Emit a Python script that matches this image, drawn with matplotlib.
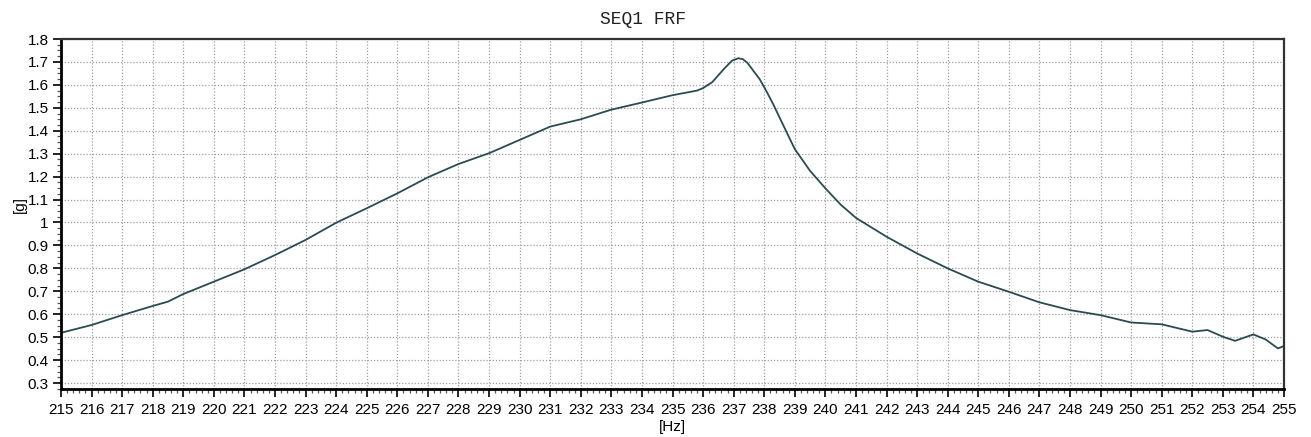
import matplotlib.pyplot as plt
from matplotlib.ticker import MultipleLocator

# frequency [Hz] and response [g]
freq = [215.0, 216.0, 217.0, 218.0, 218.5, 219.0, 220.0, 221.0, 222.0, 223.0,
        224.0, 225.0, 226.0, 227.0, 228.0, 229.0, 230.0, 231.0, 232.0, 233.0,
        234.0, 235.0, 235.8, 236.0, 236.3, 236.7, 236.95, 237.15, 237.3, 237.45,
        237.85, 238.05, 238.3, 238.5, 238.75, 239.0, 239.5, 240.0, 240.5, 241.0,
        242.0, 243.0, 244.0, 245.0, 246.0, 247.0, 248.0, 249.0, 250.0, 251.0,
        252.0, 252.5, 253.0, 253.4, 254.0, 254.4, 254.8, 255.0]
resp = [0.519, 0.553, 0.596, 0.636, 0.655, 0.688, 0.742, 0.796, 0.858, 0.924,
        0.999, 1.062, 1.127, 1.197, 1.255, 1.302, 1.360, 1.418, 1.450, 1.492,
        1.523, 1.555, 1.575, 1.586, 1.612, 1.672, 1.706, 1.716, 1.712, 1.696,
        1.625, 1.578, 1.514, 1.458, 1.389, 1.320, 1.225, 1.149, 1.078, 1.020,
        0.938, 0.865, 0.800, 0.742, 0.698, 0.652, 0.618, 0.596, 0.564, 0.556,
        0.524, 0.531, 0.502, 0.484, 0.512, 0.490, 0.451, 0.461]

xticks = list(range(215, 256))
yticks = [0.3, 0.4, 0.5, 0.6, 0.7, 0.8, 0.9, 1.0, 1.1, 1.2, 1.3, 1.4, 1.5, 1.6, 1.7, 1.8]
ytick_labels = ["0.3", "0.4", "0.5", "0.6", "0.7", "0.8", "0.9", "1", "1.1", "1.2",
                "1.3", "1.4", "1.5", "1.6", "1.7", "1.8"]

plt.rcParams["font.family"] = ["Liberation Sans", "DejaVu Sans"]

fig = plt.figure(figsize=(13.11, 4.37), dpi=100)
ax = fig.add_axes([61 / 1311, 1 - 389 / 437, 1223 / 1311, 350 / 437])

ax.plot(freq, resp, color="#2c4a52", lw=1.3)

ax.set_xlim(215, 255)
ax.set_ylim(0.274, 1.8)
ax.set_xticks(xticks)
ax.set_xticklabels([str(t) for t in xticks])
ax.set_yticks(yticks)
ax.set_yticklabels(ytick_labels)
ax.xaxis.set_minor_locator(MultipleLocator(0.2))
ax.yaxis.set_minor_locator(MultipleLocator(0.025))

ax.grid(True, which="major", color="#a0a0a0", linestyle=(0, (1, 1.5)), lw=0.9)
ax.tick_params(which="major", direction="out", length=6, width=1.2,
               labelsize=11, colors="black", pad=3)
ax.tick_params(which="minor", direction="out", length=3, width=0.9, colors="#555")
ax.tick_params(axis="x", pad=4)

for side in ["left", "bottom"]:
    ax.spines[side].set_linewidth(2)
    ax.spines[side].set_color("black")
for side in ["top", "right"]:
    ax.spines[side].set_linewidth(1.6)
    ax.spines[side].set_color("#333")

fig.text(643 / 1311, 1 - 19.5 / 437, "SEQ1 FRF", family="Liberation Mono",
         fontsize=13, ha="center", va="center", color="#222")
fig.text(19.5 / 1311, 1 - 205 / 437, "[g]", rotation=90, fontsize=11,
         ha="center", va="center")
fig.text(672 / 1311, 1 - 427 / 437, "[Hz]", fontsize=11, ha="center", va="center")

fig.savefig("out.png", dpi=100)
